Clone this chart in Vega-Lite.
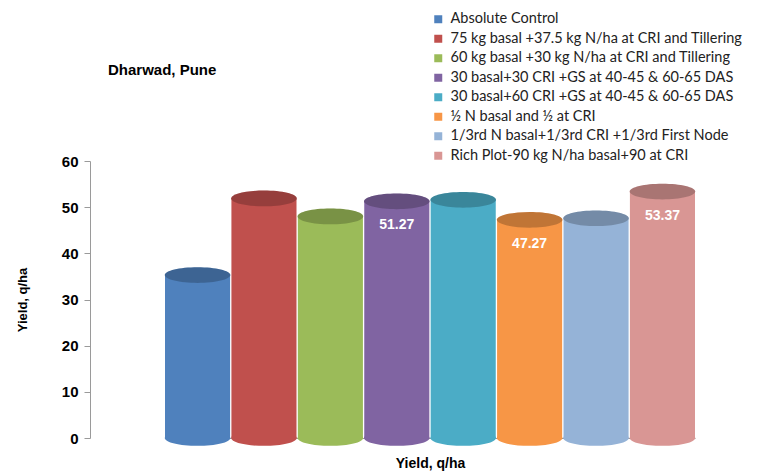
{
  "$schema": "https://vega.github.io/schema/vega-lite/v6.json",
  "width": 625,
  "height": 277,
  "autosize": {"type": "none"},
  "padding": {"left": 90, "top": 161, "right": 43, "bottom": 33},
  "background": "white",
  "title": {"text": "Dharwad, Pune", "anchor": "start", "frame": "group", "orient": "top", "offset": -81, "dx": 18, "baseline": "bottom", "font": "Liberation Sans", "fontSize": 15, "fontWeight": "bold", "color": "#000000"},
  "config": {"view": {"stroke": null}, "font": "Liberation Sans"},
  "data": {"values": [
    {"treatment": "Absolute Control", "yield": 35.3, "label": ""},
    {"treatment": "75 kg basal +37.5 kg N/ha at CRI and Tillering", "yield": 51.9, "label": ""},
    {"treatment": "60 kg basal +30 kg N/ha at CRI and Tillering", "yield": 48.0, "label": ""},
    {"treatment": "30  basal+30 CRI +GS at  40-45  & 60-65 DAS", "yield": 51.27, "label": "51.27"},
    {"treatment": "30  basal+60 CRI +GS at  40-45  & 60-65 DAS", "yield": 51.6, "label": ""},
    {"treatment": "½ N  basal and ½ at CRI", "yield": 47.27, "label": "47.27"},
    {"treatment": "1/3rd N basal+1/3rd  CRI +1/3rd  First Node", "yield": 47.6, "label": ""},
    {"treatment": "Rich Plot-90 kg N/ha basal+90 at CRI", "yield": 53.37, "label": "53.37"}
  ]},
  "encoding": {
    "x": {"field": "treatment", "type": "nominal", "sort": null,
      "scale": {"range": [75, 605], "paddingInner": 0.02, "paddingOuter": 0},
      "axis": {"labels": false, "ticks": false, "domainColor": "#9a9a9a", "title": "Yield, q/ha", "titleFont": "Liberation Sans", "titleFontSize": 14, "titleFontWeight": "bold", "titleColor": "#000000", "titlePadding": 18}},
    "color": {"field": "treatment", "type": "nominal", "sort": null,
      "scale": {"domain": [
        "Absolute Control",
        "75 kg basal +37.5 kg N/ha at CRI and Tillering",
        "60 kg basal +30 kg N/ha at CRI and Tillering",
        "30  basal+30 CRI +GS at  40-45  & 60-65 DAS",
        "30  basal+60 CRI +GS at  40-45  & 60-65 DAS",
        "½ N  basal and ½ at CRI",
        "1/3rd N basal+1/3rd  CRI +1/3rd  First Node",
        "Rich Plot-90 kg N/ha basal+90 at CRI"],
        "range": ["#4F81BD", "#C0504D", "#9BBB59", "#8064A2", "#4BACC6", "#F79646", "#95B3D7", "#D99694"]},
      "legend": {"orient": "none", "legendX": 341, "legendY": -149, "title": null, "symbolType": "square", "symbolSize": 64, "symbolStrokeWidth": 0, "labelFont": "Lato", "labelFontSize": 14.5, "labelColor": "#222222", "rowPadding": 4.5, "labelOffset": 5, "labelLimit": 400}}
  },
  "layer": [
    {
      "mark": {"type": "point", "filled": true, "opacity": 1, "strokeWidth": 0, "size": 4300, "shape": "M -1 0 A 1 0.24 0 1 0 1 0 A 1 0.24 0 1 0 -1 0 Z"},
      "encoding": {"y": {"datum": 0, "type": "quantitative"}}
    },
    {
      "mark": {"type": "bar"},
      "encoding": {
        "y": {"field": "yield", "type": "quantitative", "scale": {"domain": [0, 60]},
          "axis": {"values": [0, 10, 20, 30, 40, 50, 60], "grid": false, "domainColor": "#9a9a9a", "tickColor": "#9a9a9a", "tickSize": 6, "labelFont": "Liberation Sans", "labelFontSize": 15, "labelFontWeight": "bold", "labelColor": "#000000", "labelPadding": 6,
            "title": "Yield, q/ha", "titleFont": "Liberation Sans", "titleFontSize": 13, "titleFontWeight": "bold", "titleColor": "#000000", "titlePadding": 32}}
      }
    },
    {
      "mark": {"type": "bar", "color": {"gradient": "linear", "x1": 0, "x2": 1, "y1": 0, "y2": 0, "stops": [
        {"offset": 0, "color": "rgba(0,0,0,0.08)"},
        {"offset": 0.3, "color": "rgba(255,255,255,0.12)"},
        {"offset": 0.6, "color": "rgba(255,255,255,0)"},
        {"offset": 1, "color": "rgba(0,0,0,0.28)"}]}},
      "encoding": {"y": {"field": "yield", "type": "quantitative"}, "color": {"value": null}}
    },
    {
      "mark": {"type": "point", "filled": true, "opacity": 1, "strokeWidth": 0, "size": 4300, "shape": "M -1 0 A 1 0.24 0 1 0 1 0 A 1 0.24 0 1 0 -1 0 Z"},
      "encoding": {"y": {"field": "yield", "type": "quantitative"}}
    },
    {
      "mark": {"type": "point", "filled": true, "opacity": 0.22, "color": "#000000", "strokeWidth": 0, "size": 4300, "shape": "M -1 0 A 1 0.24 0 1 0 1 0 A 1 0.24 0 1 0 -1 0 Z"},
      "encoding": {"y": {"field": "yield", "type": "quantitative"}, "color": {"value": "#000000"}}
    },
    {
      "mark": {"type": "text", "dy": 24, "font": "Liberation Sans", "fontSize": 14, "fontWeight": "bold", "color": "#ffffff"},
      "encoding": {"y": {"field": "yield", "type": "quantitative"}, "text": {"field": "label"}, "color": {"value": "#ffffff"}}
    }
  ]
}
